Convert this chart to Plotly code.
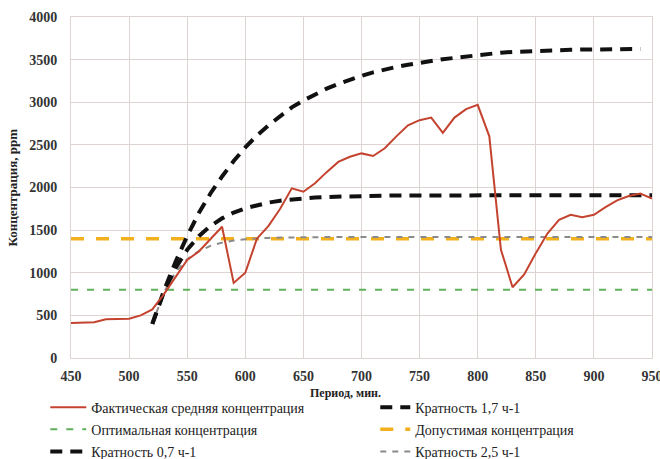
import plotly.graph_objects as go

# Time axis, minutes
t_actual = list(range(450, 951, 10))
actual = [410, 415, 420, 455, 460, 460, 500, 570, 750, 950,
          1150, 1250, 1400, 1540, 880, 1000, 1400, 1550, 1750, 1990,
          1950, 2050, 2180, 2300, 2360, 2400, 2370, 2460, 2600, 2730,
          2790, 2820, 2640, 2820, 2920, 2970, 2600, 1270, 830, 980,
          1230, 1460, 1620, 1680, 1650, 1680, 1770, 1850, 1900, 1930,
          1870]

t_limits = [450, 950]
optimal = [800, 800]
allowed = [1400, 1400]

t_07 = list(range(520, 941, 10))
k07 = [400, 790, 1130, 1430, 1700, 1930, 2130, 2310, 2470, 2610,
       2730, 2840, 2940, 3020, 3090, 3160, 3215, 3265, 3310, 3350,
       3385, 3415, 3440, 3465, 3485, 3505, 3520, 3535, 3560, 3572,
       3582, 3590, 3597, 3603, 3608, 3612, 3615, 3618, 3620, 3622,
       3623, 3624, 3625]

t_17 = list(range(520, 951, 10))
k17 = [400, 775, 1057, 1269, 1428, 1548, 1638, 1706, 1756, 1795,
       1823, 1845, 1861, 1873, 1882, 1889, 1894, 1898, 1901, 1903,
       1905, 1906, 1907, 1908, 1909, 1909, 1910, 1910, 1910, 1910,
       1910, 1910, 1910, 1910, 1910, 1910, 1910, 1910, 1910, 1910,
       1910, 1910, 1910, 1910]

t_25 = list(range(520, 951, 10))
k25 = [400, 772, 1009, 1159, 1254, 1315, 1353, 1378, 1393, 1403,
       1409, 1413, 1416, 1418, 1419, 1420, 1420, 1420, 1420, 1420,
       1420, 1420, 1420, 1420, 1420, 1420, 1420, 1420, 1420, 1420,
       1420, 1420, 1420, 1420, 1420, 1420, 1420, 1420, 1420, 1420,
       1420, 1420, 1420, 1420]

SERIF = "Liberation Serif"

fig = go.Figure()
fig.add_trace(go.Scatter(x=t_limits, y=optimal, mode="lines",
                         name="Оптимальная концентрация", legend="legend", legendgroup="g2", legendrank=2,
                         line=dict(color="#5fb05a", width=2, dash="7px,9px")))
fig.add_trace(go.Scatter(x=t_limits, y=allowed, mode="lines",
                         name="Допустимая концентрация", legend="legend2", legendgroup="h2", legendrank=2,
                         line=dict(color="#f2b01e", width=3.5, dash="13px,12px")))
fig.add_trace(go.Scatter(x=t_25, y=k25, mode="lines",
                         name="Кратность 2,5 ч-1", legend="legend2", legendgroup="h3", legendrank=3,
                         line=dict(color="#8a8a8a", width=2, dash="6px,6px")))
fig.add_trace(go.Scatter(x=t_17, y=k17, mode="lines",
                         name="Кратность 1,7 ч-1", legend="legend2", legendgroup="h1", legendrank=1,
                         line=dict(color="#111111", width=4, dash="12px,8px")))
fig.add_trace(go.Scatter(x=t_07, y=k07, mode="lines",
                         name="Кратность 0,7 ч-1", legend="legend", legendgroup="g3", legendrank=3,
                         line=dict(color="#111111", width=4, dash="12px,8px")))
fig.add_trace(go.Scatter(x=t_actual, y=actual, mode="lines",
                         name="Фактическая средняя концентрация", legend="legend", legendgroup="g1", legendrank=1,
                         line=dict(color="#c4432f", width=2)))

grid = "#ddd5d2"
leg_common = dict(orientation="v", xref="container", yref="container",
                  yanchor="top", xanchor="left", y=0.147,
                  traceorder="grouped", tracegroupgap=1,
                  font=dict(family=SERIF, size=14, color="#222222"),
                  bgcolor="rgba(0,0,0,0)")

fig.update_layout(
    width=660, height=459,
    margin=dict(l=71, r=8, t=17, b=101, autoexpand=False),
    paper_bgcolor="white", plot_bgcolor="white",
    font=dict(family=SERIF, color="#222222", size=13),
    showlegend=True,
    legend=dict(leg_common, x=0.0686, itemwidth=36),
    legend2=dict(leg_common, x=0.5686, itemwidth=30),
    xaxis=dict(range=[450, 950], dtick=50, tick0=450, automargin=False,
               showgrid=True, gridcolor=grid, gridwidth=1,
               zeroline=False, showline=True, linecolor=grid,
               mirror=True, ticks="", ticklabelstandoff=5,
               ticklabeloverflow="allow",
               tickfont=dict(family=SERIF, size=14, color="#333333", weight="bold")),
    yaxis=dict(range=[0, 4000], dtick=500, automargin=False,
               showgrid=True, gridcolor=grid, gridwidth=1,
               zeroline=False, showline=True, linecolor=grid,
               mirror=True, ticks="", ticklabelstandoff=10,
               tickfont=dict(family=SERIF, size=14, color="#333333", weight="bold")),
    annotations=[
        dict(text="Период, мин.", xref="paper", yref="paper",
             x=0.473, y=-0.103, xanchor="center", yanchor="middle",
             showarrow=False,
             font=dict(family=SERIF, size=12, color="#222222", weight="bold")),
        dict(text="Концентрация, ppm", xref="paper", yref="paper",
             x=-0.1015, y=0.5, xanchor="center", yanchor="middle",
             textangle=-90, showarrow=False,
             font=dict(family=SERIF, size=13, color="#222222", weight="bold")),
    ],
)

fig.write_html("out.html", config={"displayModeBar": False},
               post_script="document.body.style.margin='0';document.body.style.overflow='hidden';")
